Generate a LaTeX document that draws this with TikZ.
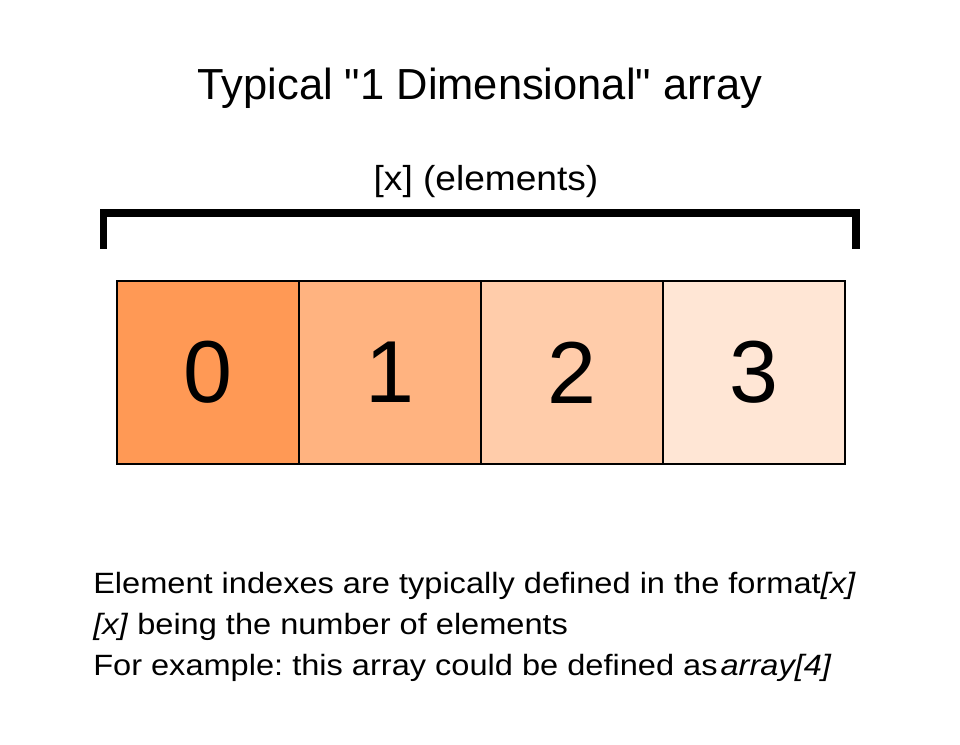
\documentclass[tikz,border=0pt]{standalone}
\usepackage{fontspec}
\setmainfont{Liberation Sans}[Ligatures=TeXOff]
\usetikzlibrary{positioning}
\frenchspacing

\definecolor{cellA}{HTML}{FF9955}
\definecolor{cellB}{HTML}{FFB380}
\definecolor{cellC}{HTML}{FFCCAA}
\definecolor{cellD}{HTML}{FFE6D5}

\newcommand{\wide}[1]{\scalebox{1.11}[1]{#1}}

\begin{document}
\begin{tikzpicture}[x=0.75pt, y=-0.75pt,
  cell/.style={draw=black, line width=1.9pt, minimum width=136.5pt, minimum height=137.25pt, inner sep=0pt, font=\fontsize{66}{66}\selectfont},
  note/.style={anchor=base west, inner sep=0pt, font=\fontsize{22}{26}\selectfont}]

\useasboundingbox (0,0) rectangle (960,745);

% --- Titles ---
\node[anchor=base, inner sep=0pt, font=\fontsize{32.6}{38}\selectfont] (title) at (480,100) {Typical "1 Dimensional" array};
\node[anchor=base, inner sep=0pt, font=\fontsize{26}{30}\selectfont] (size) at (486,191) {\scalebox{1.07}[1]{[x] (elements)}};

% --- Bracket ---
\coordinate (bl) at (103.5,249);
\coordinate (br) at (856,249);
\draw[line width=5.4pt] (bl) |- (480,213) -| (br);

% --- Cells ---
\node[cell, fill=cellA] (c0) at (208,372.5) {0};
\node[cell, fill=cellB] (c1) at (390,372.5) {1};
\node[cell, fill=cellC] (c2) at (572,372.5) {2};
\node[cell, fill=cellD] (c3) at (754,372.5) {3};

% --- Notes ---
\node[note] (n1) at (93,593) {\wide{Element indexes are typically defined in the format\textit{[x]}}};
\node[note] (n2) at (93,634) {\wide{\textit{[x]} being the number of elements}};
\node[note] (n3) at (93,675) {\wide{For example: this array could be defined as\hspace{2pt}\textit{array[4]}}};

\end{tikzpicture}
\end{document}
